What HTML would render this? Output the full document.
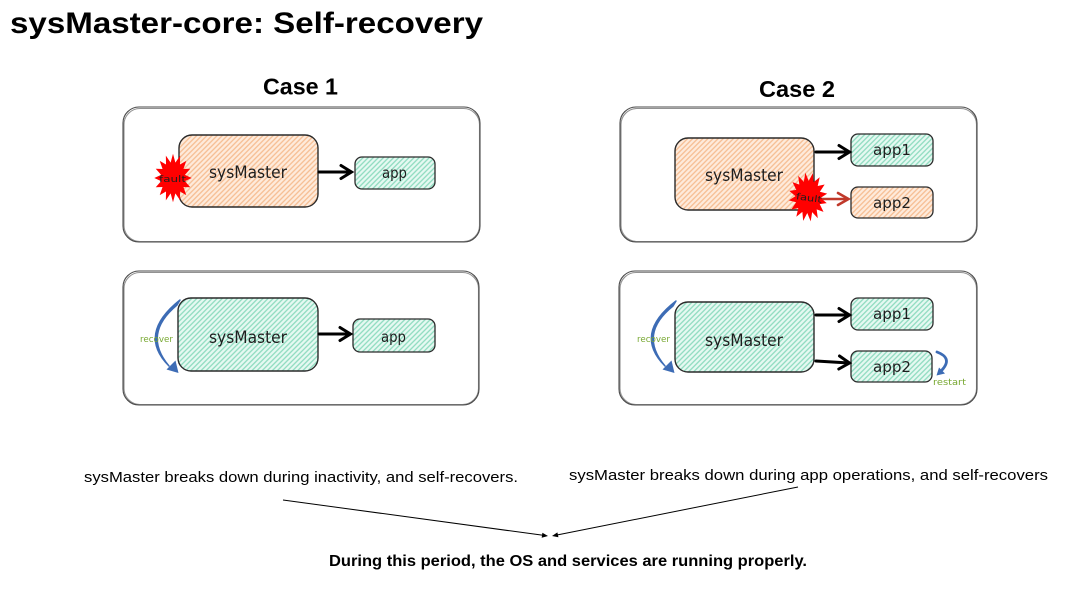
<!DOCTYPE html>
<html><head><meta charset="utf-8"><style>
html,body{margin:0;padding:0;background:#fff;}
svg{display:block;}
.hw{font-family:"DejaVu Sans","Liberation Sans",sans-serif;fill:#1e1e1e;}
.ar{font-family:"Liberation Sans",Arial,sans-serif;}
</style></head><body>
<svg width="1080" height="610" viewBox="0 0 1080 610" xmlns="http://www.w3.org/2000/svg">
<defs>
<pattern id="teal" width="3.6" height="10" patternUnits="userSpaceOnUse" patternTransform="rotate(45)">
<rect width="3.6" height="10" fill="#e6f9f2"/><line x1="1" y1="0" x2="1" y2="10" stroke="#8edbbf" stroke-width="1.3"/></pattern>
<pattern id="orng" width="3.6" height="10" patternUnits="userSpaceOnUse" patternTransform="rotate(45)">
<rect width="3.6" height="10" fill="#feebdc"/><line x1="1" y1="0" x2="1" y2="10" stroke="#f6bd92" stroke-width="1.3"/></pattern>
<polygon id="burst" fill="#ff0000" points="22,0 14,2.8 20.3,8.4 12.3,8.2 15.6,15.6 8.2,12.3 8.4,20.3 2.8,14 0,22 -2.8,14 -8.4,20.3 -8.2,12.3 -15.6,15.6 -12.3,8.2 -20.3,8.4 -14,2.8 -22,0 -14,-2.8 -20.3,-8.4 -12.3,-8.2 -15.6,-15.6 -8.2,-12.3 -8.4,-20.3 -2.8,-14 0,-22 2.8,-14 8.4,-20.3 8.2,-12.3 15.6,-15.6 12.3,-8.2 20.3,-8.4 14,-2.8"/>
</defs>
<rect width="1080" height="610" fill="#fff"/>

<!-- Title -->
<text x="10" y="33" class="ar" font-size="29.5" font-weight="bold" fill="#000" textLength="473" lengthAdjust="spacingAndGlyphs">sysMaster-core: Self-recovery</text>
<text x="263" y="94.5" class="ar" font-size="23" font-weight="bold" fill="#000" textLength="75" lengthAdjust="spacingAndGlyphs">Case 1</text>
<text x="759" y="97" class="ar" font-size="23" font-weight="bold" fill="#000" textLength="76" lengthAdjust="spacingAndGlyphs">Case 2</text>

<!-- Outer boxes -->
<g fill="none" stroke="#4a4a4a" stroke-width="1.1">
<rect x="123" y="107" width="357" height="135" rx="16"/>
<rect x="124" y="108.5" width="355.5" height="133" rx="16" stroke-opacity="0.6"/>
<rect x="620" y="107" width="357" height="135" rx="16"/>
<rect x="621" y="108.5" width="355.5" height="133" rx="16" stroke-opacity="0.6"/>
<rect x="123" y="271" width="356" height="134" rx="16"/>
<rect x="124" y="272.5" width="354.5" height="132" rx="16" stroke-opacity="0.6"/>
<rect x="619" y="271" width="358" height="134" rx="16"/>
<rect x="620" y="272.5" width="356.5" height="132" rx="16" stroke-opacity="0.6"/>
</g>

<!-- Case 1 top -->
<rect x="179" y="135" width="139" height="72" rx="13" fill="url(#orng)" stroke="#2a2a2a" stroke-width="1.4"/>
<rect x="355" y="157" width="80" height="32" rx="7" fill="url(#teal)" stroke="#2a2a2a" stroke-width="1.3"/>
<text x="209" y="178" class="hw" font-size="17" textLength="78" lengthAdjust="spacingAndGlyphs">sysMaster</text>
<text x="382" y="178" class="hw" font-size="15" textLength="25" lengthAdjust="spacingAndGlyphs">app</text>
<g stroke="#000" stroke-width="3" stroke-linecap="round" fill="none">
<line x1="319" y1="172" x2="351" y2="172"/><polyline points="341,165.5 351.5,172 341,178.5"/>
</g>
<use href="#burst" transform="translate(173,178) scale(0.85,1.1)"/>
<text x="159" y="182" class="hw" font-size="9" textLength="27" lengthAdjust="spacingAndGlyphs">fault</text>

<!-- Case 2 top -->
<rect x="675" y="138" width="139" height="72" rx="13" fill="url(#orng)" stroke="#2a2a2a" stroke-width="1.4"/>
<rect x="851" y="134" width="82" height="32" rx="7" fill="url(#teal)" stroke="#2a2a2a" stroke-width="1.3"/>
<rect x="851" y="187" width="82" height="31" rx="7" fill="url(#orng)" stroke="#2a2a2a" stroke-width="1.3"/>
<text x="705" y="181" class="hw" font-size="17" textLength="78" lengthAdjust="spacingAndGlyphs">sysMaster</text>
<text x="873" y="155" class="hw" font-size="15" textLength="38" lengthAdjust="spacingAndGlyphs">app1</text>
<text x="873" y="208" class="hw" font-size="15" textLength="38" lengthAdjust="spacingAndGlyphs">app2</text>
<g stroke="#000" stroke-width="3" stroke-linecap="round" fill="none">
<line x1="816" y1="152" x2="849" y2="152"/><polyline points="839,145.5 849.5,152 839,158.5"/>
</g>
<g stroke="#c0392b" stroke-width="2.6" stroke-linecap="round" fill="none">
<line x1="812" y1="199" x2="848" y2="199"/><polyline points="838,193 848.5,199 838,205"/>
</g>
<use href="#burst" transform="translate(808,197) scale(0.88,1.12) rotate(-8)"/>
<text x="796" y="201" class="hw" font-size="9" textLength="26" lengthAdjust="spacingAndGlyphs" transform="rotate(8 809 198)">fault</text>

<!-- Case 1 bottom -->
<rect x="178" y="298" width="140" height="73" rx="13" fill="url(#teal)" stroke="#2a2a2a" stroke-width="1.4"/>
<rect x="353" y="319" width="82" height="33" rx="7" fill="url(#teal)" stroke="#2a2a2a" stroke-width="1.3"/>
<text x="209" y="343" class="hw" font-size="17" textLength="78" lengthAdjust="spacingAndGlyphs">sysMaster</text>
<text x="381" y="342" class="hw" font-size="15" textLength="25" lengthAdjust="spacingAndGlyphs">app</text>
<g stroke="#000" stroke-width="3" stroke-linecap="round" fill="none">
<line x1="319" y1="334" x2="350" y2="334"/><polyline points="340,327.5 350.5,334 340,340.5"/>
</g>
<path d="M180,300 Q137,334 169,366 Q142,334 177,305 Z" fill="#3d6cb5" stroke="#3d6cb5" stroke-width="1.5" stroke-linejoin="round"/>
<polygon fill="#3d6cb5" points="178.5,373 175.5,360.5 166.5,369.5"/>
<text x="140" y="342" class="hw" font-size="8.5" style="fill:#78a832" textLength="33" lengthAdjust="spacingAndGlyphs">recover</text>

<!-- Case 2 bottom -->
<rect x="675" y="302" width="139" height="70" rx="13" fill="url(#teal)" stroke="#2a2a2a" stroke-width="1.4"/>
<rect x="851" y="298" width="82" height="32" rx="7" fill="url(#teal)" stroke="#2a2a2a" stroke-width="1.3"/>
<rect x="851" y="351" width="81" height="31" rx="7" fill="url(#teal)" stroke="#2a2a2a" stroke-width="1.3"/>
<text x="705" y="346" class="hw" font-size="17" textLength="78" lengthAdjust="spacingAndGlyphs">sysMaster</text>
<text x="873" y="319" class="hw" font-size="15" textLength="38" lengthAdjust="spacingAndGlyphs">app1</text>
<text x="873" y="372" class="hw" font-size="15" textLength="38" lengthAdjust="spacingAndGlyphs">app2</text>
<g stroke="#000" stroke-width="3" stroke-linecap="round" fill="none">
<line x1="816" y1="315" x2="849" y2="315"/><polyline points="839,308.5 849.5,315 839,321.5"/>
<line x1="816" y1="361" x2="849" y2="363"/><polyline points="839.5,356 849.5,363 838.8,369"/>
</g>
<path d="M676,301 Q633,334 665,366 Q638,334 673,306 Z" fill="#3d6cb5" stroke="#3d6cb5" stroke-width="1.5" stroke-linejoin="round"/>
<polygon fill="#3d6cb5" points="674.5,373 671.5,360.5 662.5,369.5"/>
<text x="637" y="342" class="hw" font-size="8.5" style="fill:#78a832" textLength="33" lengthAdjust="spacingAndGlyphs">recover</text>
<path d="M937,352 Q953,358 942,370" fill="none" stroke="#3d6cb5" stroke-width="2.8" stroke-linecap="round"/>
<polygon fill="#3d6cb5" points="936.5,375.5 945,373.5 939,367.5"/>
<text x="933" y="385" class="hw" font-size="8.5" style="fill:#78a832" textLength="33" lengthAdjust="spacingAndGlyphs">restart</text>

<!-- Bottom captions -->
<text x="84" y="482" class="ar" font-size="15" fill="#000" textLength="434" lengthAdjust="spacingAndGlyphs">sysMaster breaks down during inactivity, and self-recovers.</text>
<text x="569" y="480" class="ar" font-size="15" fill="#000" textLength="479" lengthAdjust="spacingAndGlyphs">sysMaster breaks down during app operations, and self-recovers</text>
<text x="329" y="566" class="ar" font-size="16" font-weight="bold" fill="#000" textLength="478" lengthAdjust="spacingAndGlyphs">During this period, the OS and services are running properly.</text>

<!-- connectors -->
<g stroke="#000" stroke-width="1" fill="none">
<line x1="283" y1="500" x2="543" y2="535.3"/>
<line x1="798" y1="487" x2="557" y2="535"/>
</g>
<polygon fill="#000" points="548,536 541.7,537.7 542.4,532.7"/>
<polygon fill="#000" points="552,536 558.4,537.3 557.4,532.4"/>
</svg>
</body></html>
